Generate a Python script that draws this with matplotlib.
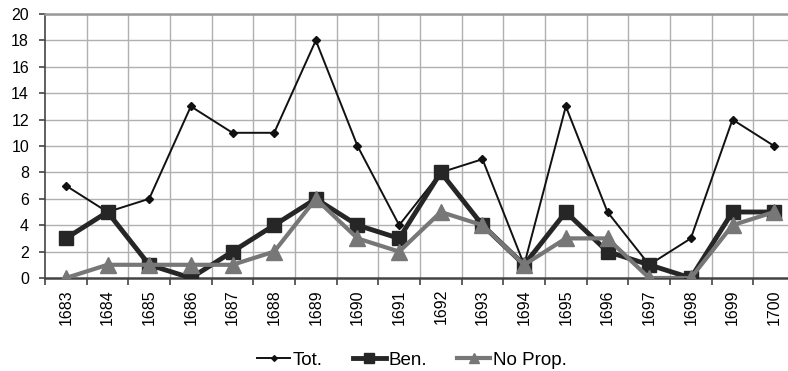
import matplotlib
matplotlib.use('Agg')
import matplotlib.pyplot as plt
import numpy as np

plt.rcParams['font.family'] = ['Liberation Sans', 'DejaVu Sans']

years = [str(y) for y in range(1683, 1701)]
tot = [7, 5, 6, 13, 11, 11, 18, 10, 4, 8, 9, 1, 13, 5, 1, 3, 12, 10]
ben = [3, 5, 1, 0, 2, 4, 6, 4, 3, 8, 4, 1, 5, 2, 1, 0, 5, 5]
no_prop = [0, 1, 1, 1, 1, 2, 6, 3, 2, 5, 4, 1, 3, 3, 0, 0, 4, 5]

W, H = 788, 371
fig = plt.figure(figsize=(W / 100, H / 100), dpi=100)
# plot area is cut off on the right in the reference
left, bottom = 45 / W, (H - 278) / H
ax = fig.add_axes([left, bottom, 750 / W, 264 / H])

x = np.arange(len(years))
ax.plot(x, tot, color='#111111', lw=1.4, marker='D', ms=4.5, label='Tot.', zorder=3)
ax.plot(x, ben, color='#262626', lw=3.5, marker='s', ms=10.5, label='Ben.', zorder=4)
ax.plot(x, no_prop, color='#777777', lw=3.0, marker='^', ms=11, label='No Prop.', zorder=5)

ax.set_xlim(-0.5, len(years) - 0.5)
ax.set_ylim(0, 20)
ax.set_yticks(range(0, 21, 2))
ax.set_xticks(x)
ax.set_xticklabels(years, rotation=90)
ax.set_xticks(np.arange(-0.5, len(years), 1), minor=True)
ax.tick_params(axis='x', which='major', length=0, pad=8, labelsize=11.5)
ax.tick_params(axis='x', which='minor', length=5, color='#444444', width=1.2)
ax.tick_params(axis='y', length=4, color='#444444', width=1.2, labelsize=11.5, pad=7.5)

ax.grid(False)
for v in np.arange(0.5, len(years) - 0.5, 1):
    ax.axvline(v, color='#b0b0b0', lw=1.0, zorder=1)
for v in range(2, 21, 2):
    ax.axhline(v, color='#b0b0b0', lw=1.0, zorder=1)

ax.spines['right'].set_visible(False)
ax.spines['top'].set_color('#999999')
ax.spines['top'].set_linewidth(1.8)
ax.spines['left'].set_color('#444444')
ax.spines['left'].set_linewidth(1.2)
ax.spines['bottom'].set_color('#444444')
ax.spines['bottom'].set_linewidth(1.8)

fig.legend(loc='center', bbox_to_anchor=(412 / W, 1 - 360 / H), ncol=3, frameon=False,
           fontsize=13.5, handlelength=1.75, handletextpad=0.15, columnspacing=1.6,
           markerscale=0.65, borderpad=0)

fig.savefig('out.png', dpi=100)
